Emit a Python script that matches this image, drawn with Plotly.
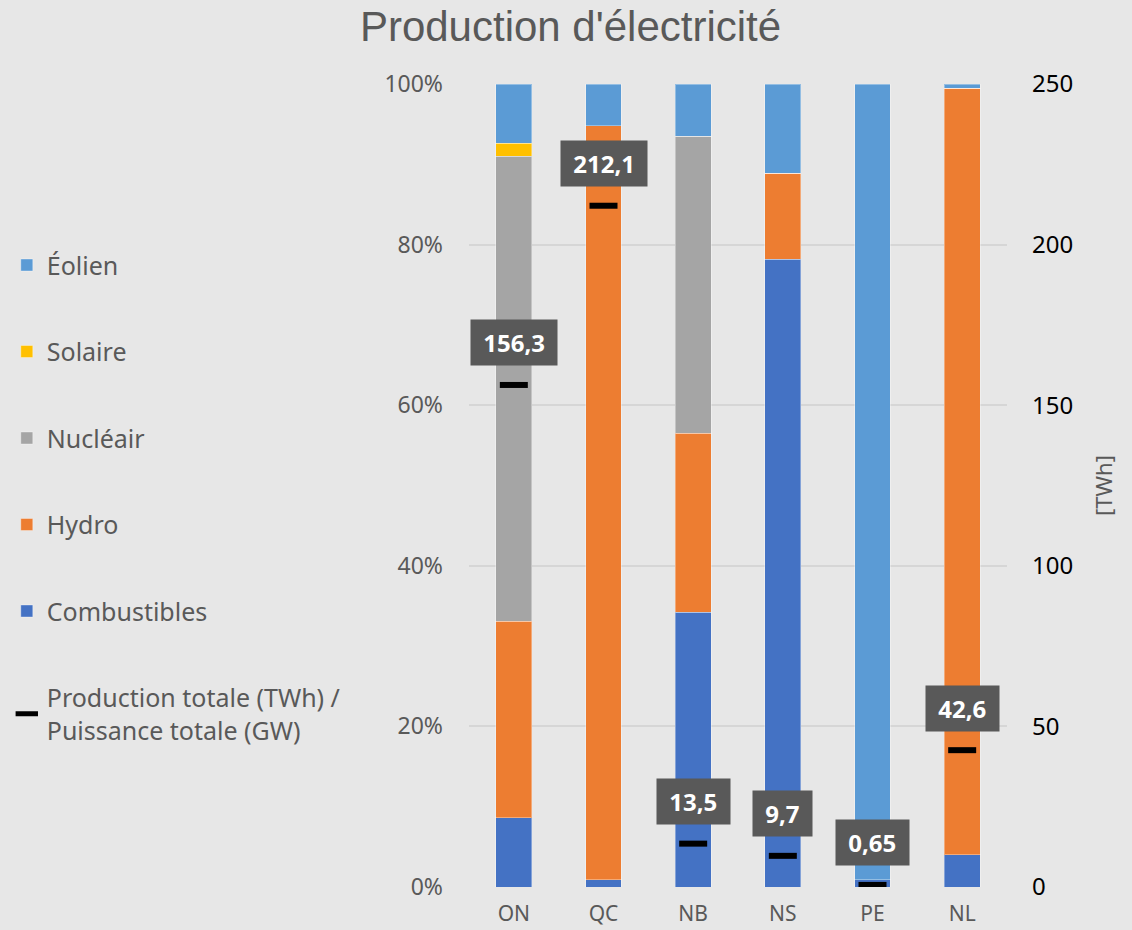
import plotly.graph_objects as go

provinces = ["ON", "QC", "NB", "NS", "PE", "NL"]
combustibles = [8.6, 0.9, 34.2, 78.2, 0.9, 4.0]
hydro = [24.5, 93.9, 22.3, 10.7, 0.0, 95.5]
nucleaire = [57.9, 0.0, 37.0, 0.0, 0.0, 0.0]
solaire = [1.65, 0.0, 0.0, 0.0, 0.0, 0.0]
eolien = [7.35, 5.2, 6.5, 11.1, 99.1, 0.5]
production_twh = [156.3, 212.1, 13.5, 9.7, 0.65, 42.6]
pct_ticks = [0, 20, 40, 60, 80, 100]
twh_ticks = [0, 50, 100, 150, 200, 250]

series = [
    ("Combustibles", combustibles, "#4472C4", 5),
    ("Hydro", hydro, "#ED7D31", 4),
    ("Nucléair", nucleaire, "#A5A5A5", 3),
    ("Solaire", solaire, "#FFC000", 2),
    ("Éolien", eolien, "#5B9BD5", 1),
]

FONT = "Noto Sans"
GRAY = "#595959"

fig = go.Figure()
for name, vals, color, rank in series:
    fig.add_trace(go.Bar(
        x=provinces, y=vals, name=name,
        marker=dict(color=color, line=dict(color="rgba(255,255,255,0.35)", width=1)),
        legendrank=rank, legendgroup=name, yaxis="y",
    ))

fig.add_trace(go.Scatter(
    x=provinces, y=production_twh, yaxis="y2", mode="markers",
    name="Production totale (TWh) /<br>Puissance totale (GW)",
    marker=dict(symbol="line-ew", size=20, line=dict(color="black", width=6)),
    legendrank=6, legendgroup="prod",
))

for p, v in zip(provinces, production_twh):
    fig.add_annotation(
        x=p, y=v, xref="x", yref="y2",
        text="\u00a0<b>" + str(v).replace(".", ",") + "</b>\u00a0",
        showarrow=False, yanchor="middle", yshift=42,
        bgcolor=GRAY, borderpad=6,
        font=dict(family=FONT, size=24, color="white"),
    )

fig.update_layout(
    width=1132, height=930,
    paper_bgcolor="#e7e7e7", plot_bgcolor="#e7e7e7",
    barmode="stack", bargap=0.6,
    margin=dict(l=469, r=125, t=84, b=43, autoexpand=False),
    title=dict(text="Production d'électricité", x=0.504, xref="container", xanchor="center",
               y=0.972, yref="container", yanchor="middle",
               font=dict(family="Liberation Sans", size=42, color=GRAY)),
    font=dict(family=FONT, color=GRAY),
    xaxis=dict(showgrid=False, showline=False, ticks="", automargin=False, ticklabelstandoff=12,
               tickfont=dict(family=FONT, size=21, color=GRAY)),
    yaxis=dict(range=[0, 100], tickvals=pct_ticks, ticktext=[f"{t}%" for t in pct_ticks],
               showgrid=True, gridcolor="#d6d6d6", gridwidth=1.5, zeroline=False, automargin=False,
               tickfont=dict(family=FONT, size=23, color=GRAY), ticklabelstandoff=25),
    yaxis2=dict(range=[0, 250], tickvals=twh_ticks, overlaying="y", side="right",
                showgrid=False, zeroline=False, automargin=False,
                tickfont=dict(family=FONT, size=24, color="black"), ticklabelstandoff=24,
                title=dict(text="[TWh]", font=dict(family=FONT, size=22, color=GRAY), standoff=24)),
    legend=dict(xref="container", yref="container", x=0.006, y=0.7395, xanchor="left", yanchor="top",
                traceorder="grouped", tracegroupgap=51, bgcolor="rgba(0,0,0,0)",
                font=dict(family=FONT, size=25, color=GRAY), itemwidth=30),
    showlegend=True,
)
try:
    fig.layout.legend.maxheight = 720
except Exception:
    pass

fig.write_html("out.html", config={"displayModeBar": False},
               post_script="document.body.style.margin='0';document.body.style.overflow='hidden';")
